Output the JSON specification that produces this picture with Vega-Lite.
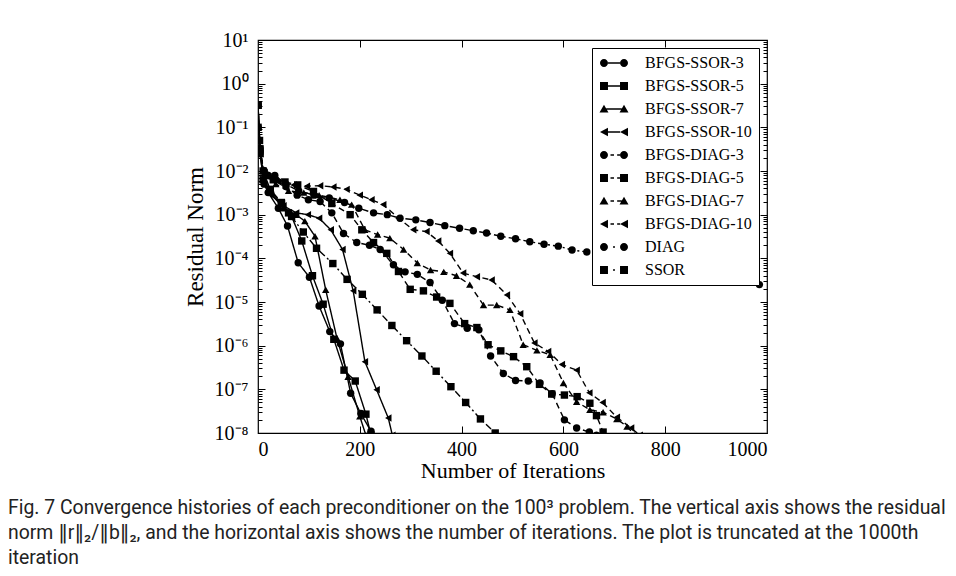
{
  "$schema": "https://vega.github.io/schema/vega-lite/v6.json",
  "width": 509,
  "height": 393,
  "autosize": {"type": "none"},
  "padding": {"left": 258, "top": 40, "right": 189, "bottom": 143},
  "background": "white",
  "config": {
    "view": {"stroke": "black", "strokeWidth": 1.2},
    "axis": {"grid": false, "domain": false, "labelFont": "Liberation Serif", "titleFont": "Liberation Serif", "labelColor": "black", "titleColor": "black", "tickColor": "black", "labelFontSize": 20, "titleFontSize": 22, "titleFontWeight": "normal", "tickWidth": 1}
  },
  "title": {
    "text": ["Fig. 7  Convergence histories of each preconditioner on the 100³ problem. The vertical axis shows the residual", "norm ‖r‖₂/‖b‖₂, and the horizontal axis shows the number of iterations. The plot is truncated at the 1000th", "iteration"],
    "orient": "bottom", "anchor": "start", "frame": "group", "dx": -250, "offset": 18,
    "font": "Roboto, DejaVu Sans, sans-serif", "fontSize": 19.4, "fontWeight": "normal", "color": "#222222", "lineHeight": 25
  },
  "data": {"values": [
    {"s":"SSOR","i":0,"v":0.32},{"s":"SSOR","i":3,"v":0.05},{"s":"SSOR","i":10,"v":0.01},{"s":"SSOR","i":24,"v":0.0038},{"s":"SSOR","i":46,"v":0.0019},{"s":"SSOR","i":60,"v":0.0011},{"s":"SSOR","i":89,"v":4.0e-4},{"s":"SSOR","i":115,"v":1.7e-4},{"s":"SSOR","i":147,"v":7.6e-5},{"s":"SSOR","i":175,"v":3.3e-5},{"s":"SSOR","i":205,"v":1.5e-5},{"s":"SSOR","i":234,"v":6.6e-6},{"s":"SSOR","i":263,"v":2.9e-6},{"s":"SSOR","i":292,"v":1.3e-6},{"s":"SSOR","i":322,"v":5.8e-7},{"s":"SSOR","i":350,"v":2.6e-7},{"s":"SSOR","i":379,"v":1.15e-7},{"s":"SSOR","i":408,"v":5.0e-8},{"s":"SSOR","i":437,"v":2.1e-8},{"s":"SSOR","i":466,"v":1.0e-8},
    {"s":"BFGS-SSOR-3","i":0,"v":0.32},{"s":"BFGS-SSOR-3","i":4,"v":0.032},{"s":"BFGS-SSOR-3","i":12,"v":0.005},{"s":"BFGS-SSOR-3","i":20,"v":0.0032},{"s":"BFGS-SSOR-3","i":40,"v":0.0014},{"s":"BFGS-SSOR-3","i":58,"v":5.5e-4},{"s":"BFGS-SSOR-3","i":79,"v":7.9e-5},{"s":"BFGS-SSOR-3","i":101,"v":3.7e-5},{"s":"BFGS-SSOR-3","i":120,"v":8.1e-6},{"s":"BFGS-SSOR-3","i":141,"v":2.1e-6},{"s":"BFGS-SSOR-3","i":162,"v":1.1e-6},{"s":"BFGS-SSOR-3","i":182,"v":8.1e-8},{"s":"BFGS-SSOR-3","i":202,"v":2.8e-8},{"s":"BFGS-SSOR-3","i":222,"v":1.1e-8},
    {"s":"BFGS-SSOR-5","i":0,"v":0.32},{"s":"BFGS-SSOR-5","i":4,"v":0.032},{"s":"BFGS-SSOR-5","i":10,"v":0.0063},{"s":"BFGS-SSOR-5","i":24,"v":0.0035},{"s":"BFGS-SSOR-5","i":46,"v":0.0018},{"s":"BFGS-SSOR-5","i":66,"v":9.1e-4},{"s":"BFGS-SSOR-5","i":86,"v":2.5e-4},{"s":"BFGS-SSOR-5","i":107,"v":4.0e-5},{"s":"BFGS-SSOR-5","i":128,"v":8.9e-6},{"s":"BFGS-SSOR-5","i":149,"v":1.4e-6},{"s":"BFGS-SSOR-5","i":169,"v":2.75e-7},{"s":"BFGS-SSOR-5","i":191,"v":1.55e-7},{"s":"BFGS-SSOR-5","i":212,"v":2.7e-8},{"s":"BFGS-SSOR-5","i":222,"v":8.9e-9},
    {"s":"BFGS-SSOR-7","i":0,"v":0.32},{"s":"BFGS-SSOR-7","i":4,"v":0.032},{"s":"BFGS-SSOR-7","i":10,"v":0.0063},{"s":"BFGS-SSOR-7","i":24,"v":0.0032},{"s":"BFGS-SSOR-7","i":50,"v":0.0014},{"s":"BFGS-SSOR-7","i":75,"v":0.001},{"s":"BFGS-SSOR-7","i":92,"v":7.1e-4},{"s":"BFGS-SSOR-7","i":112,"v":3.2e-4},{"s":"BFGS-SSOR-7","i":133,"v":1.9e-5},{"s":"BFGS-SSOR-7","i":155,"v":1.5e-6},{"s":"BFGS-SSOR-7","i":177,"v":1.95e-7},{"s":"BFGS-SSOR-7","i":200,"v":2.4e-8},{"s":"BFGS-SSOR-7","i":212,"v":8.9e-9},
    {"s":"BFGS-SSOR-10","i":0,"v":0.32},{"s":"BFGS-SSOR-10","i":4,"v":0.032},{"s":"BFGS-SSOR-10","i":10,"v":0.0063},{"s":"BFGS-SSOR-10","i":26,"v":0.0028},{"s":"BFGS-SSOR-10","i":50,"v":0.0016},{"s":"BFGS-SSOR-10","i":75,"v":0.0011},{"s":"BFGS-SSOR-10","i":98,"v":0.001},{"s":"BFGS-SSOR-10","i":120,"v":8.3e-4},{"s":"BFGS-SSOR-10","i":143,"v":4.5e-4},{"s":"BFGS-SSOR-10","i":166,"v":1.6e-4},{"s":"BFGS-SSOR-10","i":187,"v":1.8e-5},{"s":"BFGS-SSOR-10","i":210,"v":4.3e-7},{"s":"BFGS-SSOR-10","i":233,"v":9.8e-8},{"s":"BFGS-SSOR-10","i":256,"v":2.2e-8},{"s":"BFGS-SSOR-10","i":264,"v":8.9e-9},
    {"s":"BFGS-DIAG-3","i":0,"v":0.1},{"s":"BFGS-DIAG-3","i":3,"v":0.032},{"s":"BFGS-DIAG-3","i":12,"v":0.01},{"s":"BFGS-DIAG-3","i":20,"v":0.0079},{"s":"BFGS-DIAG-3","i":35,"v":0.0063},{"s":"BFGS-DIAG-3","i":55,"v":0.0044},{"s":"BFGS-DIAG-3","i":77,"v":0.0028},{"s":"BFGS-DIAG-3","i":99,"v":0.0022},{"s":"BFGS-DIAG-3","i":122,"v":0.002},{"s":"BFGS-DIAG-3","i":145,"v":0.0011},{"s":"BFGS-DIAG-3","i":168,"v":3.7e-4},{"s":"BFGS-DIAG-3","i":194,"v":2.3e-4},{"s":"BFGS-DIAG-3","i":219,"v":2.0e-4},{"s":"BFGS-DIAG-3","i":240,"v":1.6e-4},{"s":"BFGS-DIAG-3","i":266,"v":7.1e-5},{"s":"BFGS-DIAG-3","i":289,"v":4.9e-5},{"s":"BFGS-DIAG-3","i":313,"v":4.3e-5},{"s":"BFGS-DIAG-3","i":338,"v":2.8e-5},{"s":"BFGS-DIAG-3","i":362,"v":1.1e-5},{"s":"BFGS-DIAG-3","i":386,"v":3.2e-6},{"s":"BFGS-DIAG-3","i":411,"v":2.5e-6},{"s":"BFGS-DIAG-3","i":434,"v":2.3e-6},{"s":"BFGS-DIAG-3","i":457,"v":5.8e-7},{"s":"BFGS-DIAG-3","i":482,"v":2.3e-7},{"s":"BFGS-DIAG-3","i":506,"v":1.6e-7},{"s":"BFGS-DIAG-3","i":531,"v":1.55e-7},{"s":"BFGS-DIAG-3","i":554,"v":1.4e-7},{"s":"BFGS-DIAG-3","i":578,"v":7.9e-8},{"s":"BFGS-DIAG-3","i":602,"v":2.0e-8},{"s":"BFGS-DIAG-3","i":626,"v":1.3e-8},{"s":"BFGS-DIAG-3","i":651,"v":1.05e-8},{"s":"BFGS-DIAG-3","i":665,"v":8.9e-9},
    {"s":"BFGS-DIAG-5","i":0,"v":0.1},{"s":"BFGS-DIAG-5","i":4,"v":0.025},{"s":"BFGS-DIAG-5","i":15,"v":0.0079},{"s":"BFGS-DIAG-5","i":30,"v":0.0063},{"s":"BFGS-DIAG-5","i":53,"v":0.0056},{"s":"BFGS-DIAG-5","i":78,"v":0.0048},{"s":"BFGS-DIAG-5","i":109,"v":0.0034},{"s":"BFGS-DIAG-5","i":145,"v":0.0018},{"s":"BFGS-DIAG-5","i":181,"v":0.001},{"s":"BFGS-DIAG-5","i":204,"v":4.5e-4},{"s":"BFGS-DIAG-5","i":227,"v":2.3e-4},{"s":"BFGS-DIAG-5","i":253,"v":1.3e-4},{"s":"BFGS-DIAG-5","i":276,"v":5.0e-5},{"s":"BFGS-DIAG-5","i":299,"v":1.95e-5},{"s":"BFGS-DIAG-5","i":325,"v":1.8e-5},{"s":"BFGS-DIAG-5","i":351,"v":1.3e-5},{"s":"BFGS-DIAG-5","i":377,"v":9.3e-6},{"s":"BFGS-DIAG-5","i":406,"v":3.2e-6},{"s":"BFGS-DIAG-5","i":430,"v":2.6e-6},{"s":"BFGS-DIAG-5","i":452,"v":1.05e-6},{"s":"BFGS-DIAG-5","i":477,"v":7.6e-7},{"s":"BFGS-DIAG-5","i":502,"v":5.6e-7},{"s":"BFGS-DIAG-5","i":528,"v":3.3e-7},{"s":"BFGS-DIAG-5","i":553,"v":1.3e-7},{"s":"BFGS-DIAG-5","i":577,"v":7.8e-8},{"s":"BFGS-DIAG-5","i":602,"v":7.4e-8},{"s":"BFGS-DIAG-5","i":627,"v":6.8e-8},{"s":"BFGS-DIAG-5","i":652,"v":4.8e-8},{"s":"BFGS-DIAG-5","i":665,"v":2.5e-8},{"s":"BFGS-DIAG-5","i":678,"v":1.05e-8},
    {"s":"BFGS-DIAG-7","i":0,"v":0.1},{"s":"BFGS-DIAG-7","i":4,"v":0.025},{"s":"BFGS-DIAG-7","i":15,"v":0.0079},{"s":"BFGS-DIAG-7","i":35,"v":0.005},{"s":"BFGS-DIAG-7","i":60,"v":0.0035},{"s":"BFGS-DIAG-7","i":90,"v":0.0032},{"s":"BFGS-DIAG-7","i":120,"v":0.0028},{"s":"BFGS-DIAG-7","i":161,"v":0.0022},{"s":"BFGS-DIAG-7","i":184,"v":0.0017},{"s":"BFGS-DIAG-7","i":210,"v":4.5e-4},{"s":"BFGS-DIAG-7","i":235,"v":3.5e-4},{"s":"BFGS-DIAG-7","i":259,"v":2.9e-4},{"s":"BFGS-DIAG-7","i":286,"v":1.6e-4},{"s":"BFGS-DIAG-7","i":313,"v":7.8e-5},{"s":"BFGS-DIAG-7","i":339,"v":5.4e-5},{"s":"BFGS-DIAG-7","i":365,"v":4.9e-5},{"s":"BFGS-DIAG-7","i":390,"v":4.0e-5},{"s":"BFGS-DIAG-7","i":416,"v":2.5e-5},{"s":"BFGS-DIAG-7","i":443,"v":8.5e-6},{"s":"BFGS-DIAG-7","i":469,"v":8.5e-6},{"s":"BFGS-DIAG-7","i":495,"v":6.6e-6},{"s":"BFGS-DIAG-7","i":521,"v":1.05e-6},{"s":"BFGS-DIAG-7","i":548,"v":7.8e-7},{"s":"BFGS-DIAG-7","i":574,"v":6.2e-7},{"s":"BFGS-DIAG-7","i":600,"v":1.4e-7},{"s":"BFGS-DIAG-7","i":626,"v":5.2e-8},{"s":"BFGS-DIAG-7","i":652,"v":3.4e-8},{"s":"BFGS-DIAG-7","i":678,"v":3.0e-8},{"s":"BFGS-DIAG-7","i":705,"v":2.1e-8},{"s":"BFGS-DIAG-7","i":725,"v":1.4e-8},{"s":"BFGS-DIAG-7","i":740,"v":8.9e-9},
    {"s":"BFGS-DIAG-10","i":0,"v":0.1},{"s":"BFGS-DIAG-10","i":4,"v":0.025},{"s":"BFGS-DIAG-10","i":15,"v":0.0079},{"s":"BFGS-DIAG-10","i":40,"v":0.0056},{"s":"BFGS-DIAG-10","i":70,"v":0.0048},{"s":"BFGS-DIAG-10","i":96,"v":0.0045},{"s":"BFGS-DIAG-10","i":122,"v":0.0046},{"s":"BFGS-DIAG-10","i":148,"v":0.0043},{"s":"BFGS-DIAG-10","i":174,"v":0.0038},{"s":"BFGS-DIAG-10","i":200,"v":0.0028},{"s":"BFGS-DIAG-10","i":223,"v":0.0022},{"s":"BFGS-DIAG-10","i":246,"v":0.0017},{"s":"BFGS-DIAG-10","i":276,"v":8.3e-4},{"s":"BFGS-DIAG-10","i":305,"v":4.5e-4},{"s":"BFGS-DIAG-10","i":331,"v":4.1e-4},{"s":"BFGS-DIAG-10","i":354,"v":2.5e-4},{"s":"BFGS-DIAG-10","i":377,"v":1.3e-4},{"s":"BFGS-DIAG-10","i":403,"v":4.6e-5},{"s":"BFGS-DIAG-10","i":430,"v":3.8e-5},{"s":"BFGS-DIAG-10","i":459,"v":3.2e-5},{"s":"BFGS-DIAG-10","i":489,"v":1.45e-5},{"s":"BFGS-DIAG-10","i":515,"v":5.4e-6},{"s":"BFGS-DIAG-10","i":543,"v":1.15e-6},{"s":"BFGS-DIAG-10","i":570,"v":7.4e-7},{"s":"BFGS-DIAG-10","i":597,"v":3.7e-7},{"s":"BFGS-DIAG-10","i":626,"v":2.75e-7},{"s":"BFGS-DIAG-10","i":651,"v":8.3e-8},{"s":"BFGS-DIAG-10","i":677,"v":5.0e-8},{"s":"BFGS-DIAG-10","i":705,"v":2.3e-8},{"s":"BFGS-DIAG-10","i":733,"v":1.3e-8},{"s":"BFGS-DIAG-10","i":750,"v":8.9e-9},
    {"s":"DIAG","i":0,"v":0.1},{"s":"DIAG","i":4,"v":0.025},{"s":"DIAG","i":12,"v":0.01},{"s":"DIAG","i":33,"v":0.0079},{"s":"DIAG","i":55,"v":0.005},{"s":"DIAG","i":80,"v":0.0035},{"s":"DIAG","i":110,"v":0.0028},{"s":"DIAG","i":140,"v":0.0024},{"s":"DIAG","i":170,"v":0.0019},{"s":"DIAG","i":198,"v":0.0014},{"s":"DIAG","i":227,"v":0.0011},{"s":"DIAG","i":254,"v":0.001},{"s":"DIAG","i":279,"v":8.3e-4},{"s":"DIAG","i":310,"v":7.6e-4},{"s":"DIAG","i":338,"v":6.6e-4},{"s":"DIAG","i":367,"v":5.6e-4},{"s":"DIAG","i":396,"v":4.9e-4},{"s":"DIAG","i":423,"v":4.3e-4},{"s":"DIAG","i":449,"v":3.8e-4},{"s":"DIAG","i":477,"v":3.2e-4},{"s":"DIAG","i":506,"v":2.8e-4},{"s":"DIAG","i":534,"v":2.4e-4},{"s":"DIAG","i":562,"v":2.1e-4},{"s":"DIAG","i":590,"v":1.9e-4},{"s":"DIAG","i":617,"v":1.55e-4},{"s":"DIAG","i":646,"v":1.4e-4},{"s":"DIAG","i":675,"v":1.2e-4},{"s":"DIAG","i":703,"v":1.0e-4},{"s":"DIAG","i":731,"v":8.9e-5},{"s":"DIAG","i":760,"v":7.6e-5},{"s":"DIAG","i":788,"v":6.6e-5},{"s":"DIAG","i":816,"v":5.8e-5},{"s":"DIAG","i":845,"v":5.0e-5},{"s":"DIAG","i":873,"v":4.4e-5},{"s":"DIAG","i":901,"v":3.8e-5},{"s":"DIAG","i":930,"v":3.3e-5},{"s":"DIAG","i":958,"v":2.9e-5},{"s":"DIAG","i":985,"v":2.5e-5}
  ]},
  "resolve": {"axis": {"x": "independent", "y": "independent"}, "scale": {"shape": "independent"}},
  "layer": [
    {
      "mark": {"type": "line", "color": "black", "strokeWidth": 1.4, "clip": true},
      "encoding": {
        "x": {"field": "i", "type": "quantitative", "scale": {"domain": [0, 1000], "nice": false},
          "axis": {"orient": "bottom", "values": [0, 200, 400, 600, 800, 1000], "format": "d", "ticks": false, "labelPadding": 6, "title": "Number of Iterations", "titlePadding": 1}},
        "y": {"field": "v", "type": "quantitative", "scale": {"type": "log", "domain": [1e-8, 10], "nice": false},
          "axis": {"orient": "left", "values": [1e-8, 1e-7, 1e-6, 1e-5, 1e-4, 1e-3, 1e-2, 1e-1, 1, 10], "ticks": false, "labelPadding": 10,
            "labelExpr": "'10' + ['⁻⁸','⁻⁷','⁻⁶','⁻⁵','⁻⁴','⁻³','⁻²','⁻¹','⁰','¹'][round(log(datum.value)/LN10)+8]",
            "title": "Residual Norm", "titleFontSize": 23, "titlePadding": 7}},
        "strokeDash": {"field": "s", "type": "nominal", "legend": null,
          "scale": {"domain": ["BFGS-SSOR-3","BFGS-SSOR-5","BFGS-SSOR-7","BFGS-SSOR-10","BFGS-DIAG-3","BFGS-DIAG-5","BFGS-DIAG-7","BFGS-DIAG-10","DIAG","SSOR"],
            "range": [[1,0],[1,0],[1,0],[1,0],[6,4],[6,4],[6,4],[6,4],[7,3,2,3],[7,3,2,3]]}}
      }
    },
    {
      "mark": {"type": "point", "filled": true, "color": "black", "size": 55, "opacity": 1, "clip": true},
      "encoding": {
        "x": {"field": "i", "type": "quantitative", "axis": null},
        "y": {"field": "v", "type": "quantitative", "scale": {"type": "log"}, "axis": null},
        "shape": {"field": "s", "type": "nominal", "legend": null,
          "scale": {"domain": ["BFGS-SSOR-3","BFGS-SSOR-5","BFGS-SSOR-7","BFGS-SSOR-10","BFGS-DIAG-3","BFGS-DIAG-5","BFGS-DIAG-7","BFGS-DIAG-10","DIAG","SSOR"],
            "range": ["circle","square","triangle-up","triangle-left","circle","square","triangle-up","triangle-left","circle","square"]}}
      }
    },
    {
      "mark": {"type": "point", "filled": true, "color": "black", "opacity": 0},
      "encoding": {
        "x": {"field": "i", "type": "quantitative", "axis": {"orient": "top", "values": [200, 400, 600, 800], "tickSize": -7, "labels": false, "title": null}},
        "y": {"field": "v", "type": "quantitative", "scale": {"type": "log"}, "axis": {"orient": "right", "values": [1e-8, 1e-7, 1e-6, 1e-5, 1e-4, 1e-3, 1e-2, 1e-1, 1, 10], "tickSize": -7, "labels": false, "title": null}},
        "shape": {"field": "s", "type": "nominal",
          "scale": {"domain": ["BFGS-SSOR-3","BFGS-SSOR-5","BFGS-SSOR-7","BFGS-SSOR-10","BFGS-DIAG-3","BFGS-DIAG-5","BFGS-DIAG-7","BFGS-DIAG-10","DIAG","SSOR"],
            "range": [
              "M-2,0A0.57,0.57 0 1,0 -0.86,0A0.57,0.57 0 1,0 -2,0ZM-0.86,-0.1L0.86,-0.1L0.86,0.1L-0.86,0.1ZM0.86,0A0.57,0.57 0 1,0 2,0A0.57,0.57 0 1,0 0.86,0Z",
              "M-2,-0.57L-0.86,-0.57L-0.86,0.57L-2,0.57ZM-0.86,-0.1L0.86,-0.1L0.86,0.1L-0.86,0.1ZM0.86,-0.57L2,-0.57L2,0.57L0.86,0.57Z",
              "M-1.43,-0.62L-0.79,0.5L-2.07,0.5ZM-1.1,-0.1L1.1,-0.1L1.1,0.1L-1.1,0.1ZM1.43,-0.62L2.07,0.5L0.79,0.5Z",
              "M-2,0L-0.86,-0.6L-0.86,0.6ZM-0.86,-0.1L0.86,-0.1L0.86,0.1L-0.86,0.1ZM0.86,0L2,-0.6L2,0.6Z",
              "M-2,0A0.57,0.57 0 1,0 -0.86,0A0.57,0.57 0 1,0 -2,0ZM-0.5,-0.1L0,-0.1L0,0.1L-0.5,0.1ZM0.45,-0.1L0.86,-0.1L0.86,0.1L0.45,0.1ZM0.86,0A0.57,0.57 0 1,0 2,0A0.57,0.57 0 1,0 0.86,0Z",
              "M-2,-0.57L-0.86,-0.57L-0.86,0.57L-2,0.57ZM-0.5,-0.1L0,-0.1L0,0.1L-0.5,0.1ZM0.45,-0.1L0.86,-0.1L0.86,0.1L0.45,0.1ZM0.86,-0.57L2,-0.57L2,0.57L0.86,0.57Z",
              "M-1.43,-0.62L-0.79,0.5L-2.07,0.5ZM-0.5,-0.1L0,-0.1L0,0.1L-0.5,0.1ZM0.45,-0.1L1.1,-0.1L1.1,0.1L0.45,0.1ZM1.43,-0.62L2.07,0.5L0.79,0.5Z",
              "M-2,0L-0.86,-0.6L-0.86,0.6ZM-0.5,-0.1L0,-0.1L0,0.1L-0.5,0.1ZM0.45,-0.1L0.86,-0.1L0.86,0.1L0.45,0.1ZM0.86,0L2,-0.6L2,0.6Z",
              "M-2,0A0.57,0.57 0 1,0 -0.86,0A0.57,0.57 0 1,0 -2,0ZM-0.14,-0.12L0.14,-0.12L0.14,0.12L-0.14,0.12ZM0.86,0A0.57,0.57 0 1,0 2,0A0.57,0.57 0 1,0 0.86,0Z",
              "M-2,-0.57L-0.86,-0.57L-0.86,0.57L-2,0.57ZM-0.14,-0.12L0.14,-0.12L0.14,0.12L-0.14,0.12ZM0.86,-0.57L2,-0.57L2,0.57L0.86,0.57Z"
            ]},
          "legend": {"orient": "none", "legendX": 334, "legendY": 8, "title": null, "strokeColor": "black", "fillColor": "white", "padding": 7,
            "labelFont": "Liberation Serif", "labelFontSize": 16, "labelColor": "black", "labelOffset": 23, "symbolOffset": 7,
            "symbolSize": 196, "symbolOpacity": 1, "symbolFillColor": "black", "symbolStrokeColor": "black", "symbolStrokeWidth": 0, "rowPadding": 7,
            "encode": {"symbols": {"update": {"fill": {"value": "black"}, "opacity": {"value": 1}}}}}
        }
      }
    },
    {
      "mark": {"type": "point", "opacity": 0},
      "encoding": {
        "x": {"field": "i", "type": "quantitative", "axis": {"orient": "bottom", "values": [200, 400, 600, 800], "tickSize": -7, "labels": false, "title": null}},
        "y": {"field": "v", "type": "quantitative", "scale": {"type": "log"}, "axis": {"orient": "left", "values": [1e-8, 1e-7, 1e-6, 1e-5, 1e-4, 1e-3, 1e-2, 1e-1, 1, 10], "tickSize": -7, "labels": false, "title": null}}
      }
    },
    {
      "mark": {"type": "point", "opacity": 0},
      "encoding": {
        "x": {"field": "i", "type": "quantitative", "axis": null},
        "y": {"field": "v", "type": "quantitative", "scale": {"type": "log"}, "axis": {"orient": "left", "values": [2e-8,3e-8,4e-8,5e-8,6e-8,7e-8,8e-8,9e-8,2e-7,3e-7,4e-7,5e-7,6e-7,7e-7,8e-7,9e-7,2e-6,3e-6,4e-6,5e-6,6e-6,7e-6,8e-6,9e-6,2e-5,3e-5,4e-5,5e-5,6e-5,7e-5,8e-5,9e-5,2e-4,3e-4,4e-4,5e-4,6e-4,7e-4,8e-4,9e-4,0.002,0.003,0.004,0.005,0.006,0.007,0.008,0.009,0.02,0.03,0.04,0.05,0.06,0.07,0.08,0.09,0.2,0.3,0.4,0.5,0.6,0.7,0.8,0.9,2,3,4,5,6,7,8,9], "tickSize": -4, "labels": false, "title": null}}
      }
    },
    {
      "mark": {"type": "point", "opacity": 0},
      "encoding": {
        "x": {"field": "i", "type": "quantitative", "axis": null},
        "y": {"field": "v", "type": "quantitative", "scale": {"type": "log"}, "axis": {"orient": "right", "values": [2e-8,3e-8,4e-8,5e-8,6e-8,7e-8,8e-8,9e-8,2e-7,3e-7,4e-7,5e-7,6e-7,7e-7,8e-7,9e-7,2e-6,3e-6,4e-6,5e-6,6e-6,7e-6,8e-6,9e-6,2e-5,3e-5,4e-5,5e-5,6e-5,7e-5,8e-5,9e-5,2e-4,3e-4,4e-4,5e-4,6e-4,7e-4,8e-4,9e-4,0.002,0.003,0.004,0.005,0.006,0.007,0.008,0.009,0.02,0.03,0.04,0.05,0.06,0.07,0.08,0.09,0.2,0.3,0.4,0.5,0.6,0.7,0.8,0.9,2,3,4,5,6,7,8,9], "tickSize": -4, "labels": false, "title": null}}
      }
    }
  ]
}
